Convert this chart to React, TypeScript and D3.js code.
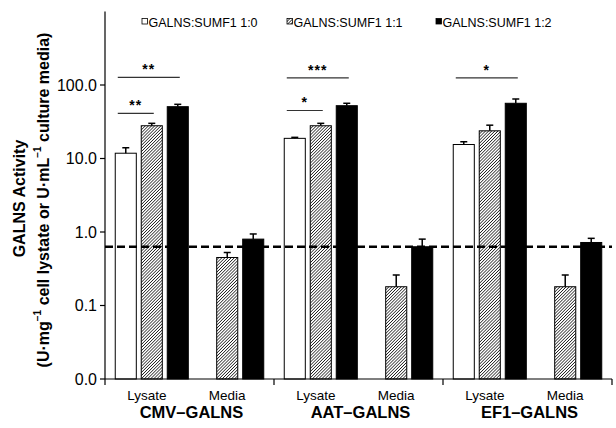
import React from "react";
import * as d3 from "d3";

const groups = ["CMV–GALNS", "AAT–GALNS", "EF1–GALNS"];
const sites = ["Lysate", "Media"];
const series = ["GALNS:SUMF1 1:0", "GALNS:SUMF1 1:1", "GALNS:SUMF1 1:2"];

// mean activity per group, per series
const lysateMean = [[11.8, 27.9, 50.7], [18.8, 27.9, 52.3], [15.5, 23.8, 56.4]];
const lysateErr = [[2.2, 2.2, 3.9], [0.6, 2.2, 4.1], [1.4, 4.6, 8.1]];
const mediaMean = [[null, 0.45, 0.8], [null, 0.18, 0.63], [null, 0.18, 0.72]];
const mediaErr = [[null, 0.076, 0.14], [null, 0.08, 0.17], [null, 0.08, 0.1]];

const threshold = 0.63;
const yTicks = [0.01, 0.1, 1, 10, 100];

// significance brackets (lysate only)
const sigGroup = [0, 0, 1, 1, 2];
const sigTo = [2, 1, 2, 1, 2];
const sigLevel = [127, 41, 125, 45, 125];
const sigLabel = ["**", "**", "***", "*", "*"];

const W = 616;
const H = 428;
const font = "'Liberation Sans', Arial, sans-serif";

const App: React.FC = () => {
  const x0 = d3.scaleBand<string>().domain(groups).range([105, 612]).padding(0);
  const x1 = d3.scalePoint<string>().domain(sites).range([0, x0.bandwidth()]).padding(0.62);
  const x2 = d3.scaleBand<string>().domain(series).range([-39, 39]).paddingInner(0.19).paddingOuter(0.095);
  const y = d3.scaleLog().domain([0.01, 1000]).range([379, 11.5]);

  const fills = ["#fff", "url(#hatch)", "#000"];
  const fmt = d3.format(".1f");

  const barX = (g: number, s: number, k: number) =>
    (x0(groups[g]) || 0) + (x1(sites[s]) || 0) + (x2(series[k]) || 0);
  const barC = (g: number, s: number, k: number) => barX(g, s, k) + x2.bandwidth() / 2;

  const bars: any[] = [];
  groups.forEach((_, g) => {
    [lysateMean, mediaMean].forEach((means, s) => {
      const errs = s === 0 ? lysateErr : mediaErr;
      series.forEach((_, k) => {
        const v = means[g][k];
        if (v == null) return;
        bars.push({ g, s, k, v, e: errs[g][k] });
      });
    });
  });

  const legendX = [142, 287, 436];

  return (
    <div style={{ position: "absolute", left: 0, top: 0 }}>
      <svg width={W} height={H} style={{ display: "block", background: "#fff" }} fontFamily={font}>
        <defs>
          <pattern id="hatch" width={2.2} height={2.2} patternUnits="userSpaceOnUse" patternTransform="rotate(45)">
            <rect width={2.2} height={2.2} fill="#fff" />
            <line x1={0} y1={0} x2={0} y2={2.2} stroke="#000" strokeWidth={1.3} />
          </pattern>
        </defs>

        {/* bars */}
        {bars.map((b, i) => (
          <g key={i}>
            <rect
              x={barX(b.g, b.s, b.k)}
              y={y(b.v)}
              width={x2.bandwidth()}
              height={y(0.01) - y(b.v)}
              fill={fills[b.k]}
              stroke="#000"
              strokeWidth={1}
            />
            <line x1={barC(b.g, b.s, b.k)} x2={barC(b.g, b.s, b.k)} y1={y(b.v)} y2={y(b.v + b.e)} stroke="#000" strokeWidth={1.5} />
            <line x1={barC(b.g, b.s, b.k) - 3.5} x2={barC(b.g, b.s, b.k) + 3.5} y1={y(b.v + b.e)} y2={y(b.v + b.e)} stroke="#000" strokeWidth={1.5} />
          </g>
        ))}

        {/* threshold */}
        <line x1={105} x2={612} y1={y(threshold)} y2={y(threshold)} stroke="#000" strokeWidth={2.5} strokeDasharray="8,4" />

        {/* significance */}
        {sigGroup.map((g, i) => {
          const a = barC(g, 0, 0) - 8;
          const b = barC(g, 0, sigTo[i]) + 2;
          return (
            <g key={i}>
              <line x1={a} x2={b} y1={y(sigLevel[i])} y2={y(sigLevel[i])} stroke="#333" strokeWidth={1.2} />
              <text x={(a + b) / 2} y={y(sigLevel[i]) - 3} textAnchor="middle" fontSize={14} fontWeight="bold" letterSpacing={1}>
                {sigLabel[i]}
              </text>
            </g>
          );
        })}

        {/* y axis */}
        <line x1={105} x2={105} y1={11.5} y2={379} stroke="#000" strokeWidth={1.2} />
        {yTicks.map((t) => (
          <g key={t} transform={`translate(0,${y(t)})`}>
            <line x1={100} x2={105} stroke="#000" strokeWidth={1.2} />
            <text x={97} dy="0.35em" textAnchor="end" fontSize={16}>
              {fmt(t)}
            </text>
          </g>
        ))}

        {/* x axis */}
        <line x1={105} x2={612} y1={379} y2={379} stroke="#000" strokeWidth={1.2} />
        {[...groups.map((g) => x0(g) || 0), 612].map((v, i) => (
          <line key={i} x1={v} x2={v} y1={379} y2={385} stroke="#000" strokeWidth={1.2} />
        ))}
        {groups.map((g) =>
          sites.map((s) => (
            <text key={g + s} x={(x0(g) || 0) + (x1(s) || 0) - (s === "Lysate" ? 5 : 0)} y={400} textAnchor="middle" fontSize={13.5}>
              {s}
            </text>
          ))
        )}
        {groups.map((g) => (
          <text key={g} x={(x0(g) || 0) + x0.bandwidth() / 2 + 2} y={418} textAnchor="middle" fontSize={16.5} fontWeight="bold">
            {g}
          </text>
        ))}

        {/* y title */}
        <text transform="translate(25,198.5) rotate(-90)" textAnchor="middle" fontSize={16} fontWeight="bold">
          GALNS Activity
        </text>
        <text transform="translate(49,200) rotate(-90)" textAnchor="middle" fontSize={16} fontWeight="bold">
          (U·mg
          <tspan fontSize={10} dy={-8}>−1</tspan>
          <tspan dy={8}> cell lystate or U·mL</tspan>
          <tspan fontSize={10} dy={-8}>−1</tspan>
          <tspan dy={8}> culture media)</tspan>
        </text>

        {/* legend */}
        {series.map((s, k) => (
          <g key={s}>
            <rect x={legendX[k]} y={18.5} width={5.5} height={5.5} fill={fills[k]} stroke="#000" strokeWidth={0.8} />
            <text x={legendX[k] + 6.5} y={26.5} fontSize={12.5}>
              {s}
            </text>
          </g>
        ))}
      </svg>
    </div>
  );
};

export default App;
